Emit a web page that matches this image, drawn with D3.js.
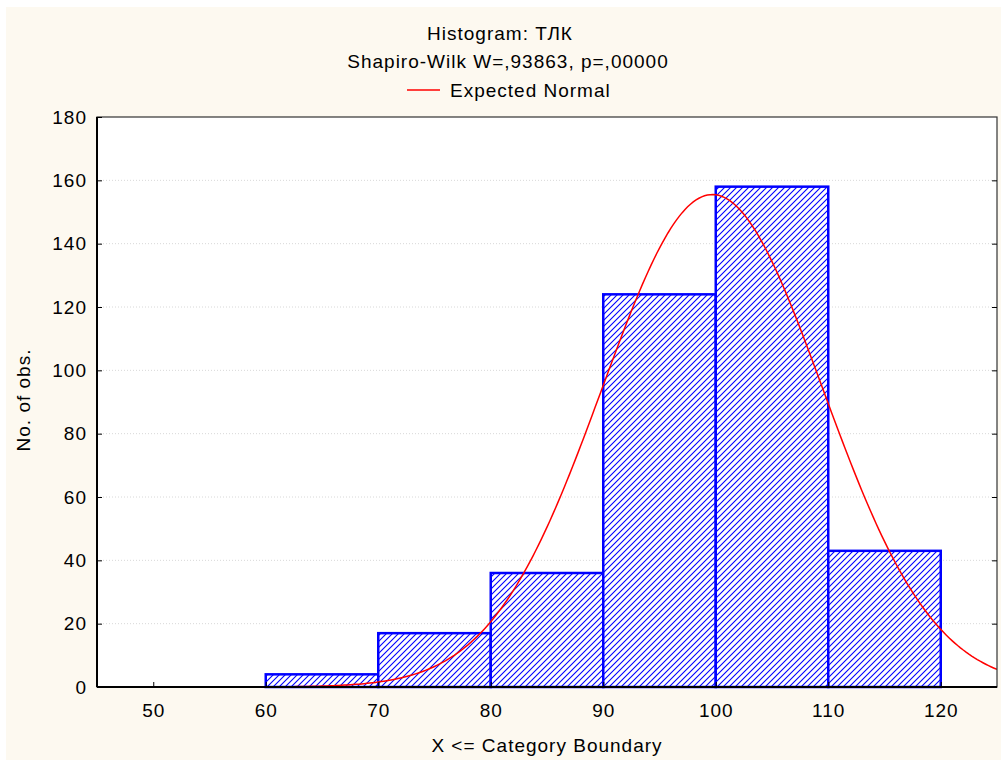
<!DOCTYPE html>
<html><head><meta charset="utf-8">
<script src="https://cdn.jsdelivr.net/npm/d3@7"></script>
<style>body{margin:0;background:#fff}svg{display:block}text{font-family:"Liberation Sans",Arial,sans-serif;fill:#000;letter-spacing:1px}</style>
</head><body><svg id="c" width="1001" height="760"></svg>
<script>
const binStarts = [60, 70, 80, 90, 100, 110];
const binWidth = 10;
const counts = [4, 17, 36, 124, 158, 43];
const xTicks = [50, 60, 70, 80, 90, 100, 110, 120];
const yTicks = [0, 20, 40, 60, 80, 100, 120, 140, 160, 180];
const normalMean = 99.7, normalSd = 9.8, normalN = 382;
const titleLines = ["Histogram: ТЛК", "Shapiro-Wilk W=,93863, p=,00000"];
const legendLabel = "Expected Normal";
const FS = "19px";

const svg = d3.select("#c");
svg.append("rect").attr("x",6).attr("y",7).attr("width",995).attr("height",753).attr("fill","#fdf9f0");
const L=97,R=997,T=117,B=687;
const x = d3.scaleLinear().domain([45,125]).range([L,R]);
const y = d3.scaleLinear().domain([0,180]).range([B,T]);

const defs = svg.append("defs");
const pat = defs.append("pattern").attr("id","hatch").attr("patternUnits","userSpaceOnUse")
  .attr("width",6).attr("height",6);
pat.append("rect").attr("width",6).attr("height",6).attr("fill","#fff");
pat.append("path").attr("d","M-1,1 l2,-2 M0,6 l6,-6 M5,7 l2,-2").attr("stroke","#0000ff").attr("stroke-width",1.1);
defs.append("clipPath").attr("id","clip").append("rect").attr("x",L).attr("y",T).attr("width",R-L).attr("height",B-T);

svg.append("rect").attr("x",L).attr("y",T).attr("width",R-L).attr("height",B-T).attr("fill","#fff");
// grid
svg.append("g").selectAll("line").data(yTicks.filter(d=>d>0&&d<180)).join("line")
  .attr("x1",L).attr("x2",R).attr("y1",d=>y(d)).attr("y2",d=>y(d))
  .attr("stroke","#d8d8d8").attr("stroke-dasharray","1,2");

// bars
const bars = binStarts.map((s,i)=>({s, c:counts[i]}));
svg.append("g").selectAll("rect").data(bars).join("rect")
  .attr("x",d=>x(d.s)).attr("y",d=>y(d.c)).attr("width",d=>x(d.s+binWidth)-x(d.s)).attr("height",d=>y(0)-y(d.c))
  .attr("fill","url(#hatch)").attr("stroke","#0000ff").attr("stroke-width",2.5);

// normal curve
const pts = d3.range(45,125.01,0.25).map(v=>[v, normalN*binWidth/(normalSd*Math.sqrt(2*Math.PI))*Math.exp(-0.5*((v-normalMean)/normalSd)**2)]);
svg.append("path").datum(pts).attr("clip-path","url(#clip)")
  .attr("d",d3.line().x(d=>x(d[0])).y(d=>y(d[1])))
  .attr("fill","none").attr("stroke","#ff0000").attr("stroke-width",1.5);

// frame
svg.append("rect").attr("x",L).attr("y",T).attr("width",R-L).attr("height",B-T).attr("fill","none").attr("stroke","#333").attr("stroke-width",1.2);
svg.append("line").attr("x1",L).attr("x2",L).attr("y1",T).attr("y2",B).attr("stroke","#000").attr("stroke-width",2);
svg.append("line").attr("x1",L).attr("x2",R).attr("y1",B).attr("y2",B).attr("stroke","#000").attr("stroke-width",2);

// axes
const ya = svg.append("g").attr("transform",`translate(${L},0)`)
  .call(d3.axisLeft(y).tickValues(yTicks).tickSize(-5).tickPadding(10).tickFormat(d3.format("d")));
ya.select(".domain").remove();
ya.selectAll("line").attr("stroke","#000");
ya.selectAll("text").style("font-size",FS).attr("font-family",null);
const yr = svg.append("g").attr("transform",`translate(${R},0)`)
  .call(d3.axisRight(y).tickValues(yTicks.filter(d=>d>0&&d<180)).tickSize(-5).tickFormat(""));
yr.select(".domain").remove(); yr.selectAll("line").attr("stroke","#000");
const xa = svg.append("g").attr("transform",`translate(0,${B})`)
  .call(d3.axisBottom(x).tickValues(xTicks).tickSize(-5).tickPadding(17).tickFormat(d3.format("d")));
xa.select(".domain").remove();
xa.selectAll("line").attr("stroke","#000");
xa.selectAll("text").style("font-size",FS).attr("font-family",null);

// titles
svg.append("text").attr("x",500).attr("y",40).attr("text-anchor","middle").style("font-size",FS).text(titleLines[0]);
svg.append("text").attr("x",508).attr("y",68).attr("text-anchor","middle").style("font-size",FS).text(titleLines[1]);
svg.append("line").attr("x1",407).attr("x2",440).attr("y1",90).attr("y2",90).attr("stroke","#ff0000").attr("stroke-width",1.5);
svg.append("text").attr("x",450).attr("y",97).style("font-size",FS).text(legendLabel);
svg.append("text").attr("x",547).attr("y",752).attr("text-anchor","middle").style("font-size",FS).text("X <= Category Boundary");
svg.append("text").attr("transform","translate(30,400) rotate(-90)").attr("text-anchor","middle").style("font-size",FS).text("No. of obs.");
</script></body></html>
